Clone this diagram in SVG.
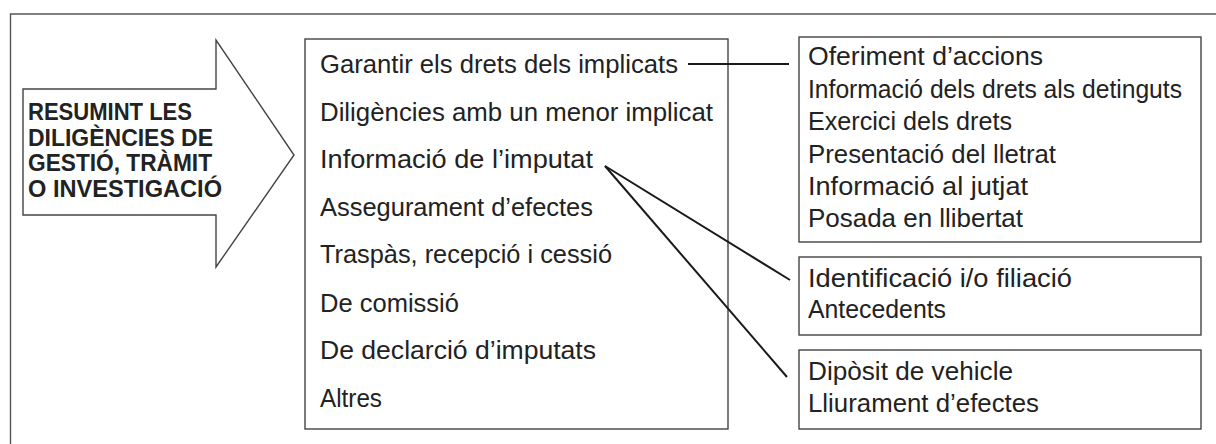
<svg xmlns="http://www.w3.org/2000/svg" width="1216" height="444" viewBox="0 0 1216 444">
<style>
.frame{fill:none;stroke:#555;stroke-width:1.4}
.box{fill:#fff;stroke:#444;stroke-width:1.4}
.t{font-family:"Liberation Sans",Arial,sans-serif;font-size:25px;fill:#222}
.h{font-family:"Liberation Sans",Arial,sans-serif;font-size:24px;font-weight:bold;fill:#222}
.con{fill:none;stroke:#1a1a1a;stroke-width:2}
</style>
<rect width="1216" height="444" fill="#fff"/>
<path class="frame" d="M10.5 444 V14 H1216"/>
<g id="arrow">
<polygon class="box" points="23,89 216,89 216,40 294,155 216,267 216,215 23,215"/>
<text class="h" x="28" y="120" textLength="164" lengthAdjust="spacingAndGlyphs">RESUMINT LES</text>
<text class="h" x="28" y="145.5" textLength="185" lengthAdjust="spacingAndGlyphs">DILIGÈNCIES DE</text>
<text class="h" x="28" y="171" textLength="184" lengthAdjust="spacingAndGlyphs">GESTIÓ, TRÀMIT</text>
<text class="h" x="28" y="196.5" textLength="194" lengthAdjust="spacingAndGlyphs">O INVESTIGACIÓ</text>
</g>
<g id="main-list">
<rect class="box" x="305" y="39" width="423" height="390"/>
<text class="t" x="320" y="73" textLength="358" lengthAdjust="spacingAndGlyphs">Garantir els drets dels implicats</text>
<text class="t" x="320" y="121" textLength="393" lengthAdjust="spacingAndGlyphs">Diligències amb un menor implicat</text>
<text class="t" x="320" y="168" textLength="273" lengthAdjust="spacingAndGlyphs">Informació de l’imputat</text>
<text class="t" x="320" y="216" textLength="273" lengthAdjust="spacingAndGlyphs">Assegurament d’efectes</text>
<text class="t" x="320" y="263" textLength="292" lengthAdjust="spacingAndGlyphs">Traspàs, recepció i cessió</text>
<text class="t" x="320" y="312" textLength="139" lengthAdjust="spacingAndGlyphs">De comissió</text>
<text class="t" x="320" y="359" textLength="276" lengthAdjust="spacingAndGlyphs">De declarció d’imputats</text>
<text class="t" x="320" y="407" textLength="62" lengthAdjust="spacingAndGlyphs">Altres</text>
</g>
<g id="rights-box">
<rect class="box" x="799" y="37" width="402" height="205"/>
<text class="t" x="808" y="65" textLength="235" lengthAdjust="spacingAndGlyphs">Oferiment d’accions</text>
<text class="t" x="808" y="98" textLength="374" lengthAdjust="spacingAndGlyphs">Informació dels drets als detinguts</text>
<text class="t" x="808" y="130" textLength="204" lengthAdjust="spacingAndGlyphs">Exercici dels drets</text>
<text class="t" x="808" y="163" textLength="248" lengthAdjust="spacingAndGlyphs">Presentació del lletrat</text>
<text class="t" x="808" y="195" textLength="220" lengthAdjust="spacingAndGlyphs">Informació al jutjat</text>
<text class="t" x="808" y="227" textLength="215" lengthAdjust="spacingAndGlyphs">Posada en llibertat</text>
</g>
<g id="identity-box">
<rect class="box" x="799" y="257" width="402" height="78"/>
<text class="t" x="808" y="287" textLength="264" lengthAdjust="spacingAndGlyphs">Identificació i/o filiació</text>
<text class="t" x="808" y="318" textLength="138" lengthAdjust="spacingAndGlyphs">Antecedents</text>
</g>
<g id="vehicle-box">
<rect class="box" x="799" y="350" width="402" height="79"/>
<text class="t" x="808" y="380" textLength="205" lengthAdjust="spacingAndGlyphs">Dipòsit de vehicle</text>
<text class="t" x="808" y="412" textLength="231" lengthAdjust="spacingAndGlyphs">Lliurament d’efectes</text>
</g>
<g id="connectors">
<line class="con" x1="688" y1="64" x2="789" y2="64"/>
<line class="con" x1="605" y1="166" x2="790" y2="280"/>
<line class="con" x1="605" y1="166" x2="787" y2="377"/>
</g>
</svg>
